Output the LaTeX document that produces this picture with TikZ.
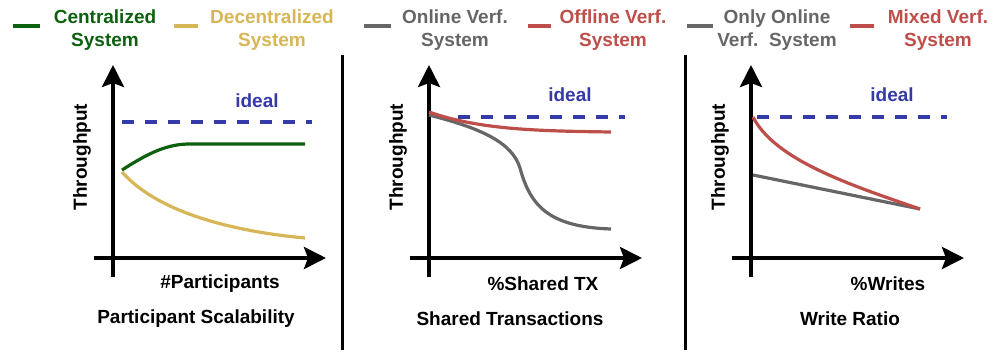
\documentclass[tikz,border=0pt]{standalone}
\usepackage{fontspec}
\setmainfont{Liberation Sans}
\usetikzlibrary{arrows.meta}

\definecolor{cgreen}{RGB}{12,96,14}
\definecolor{cyellow}{RGB}{214,182,86}
\definecolor{cgray}{RGB}{102,102,102}
\definecolor{cred}{RGB}{190,78,74}
\definecolor{cblue}{RGB}{52,58,168}

\tikzset{
  lbl/.style={font=\fontsize{19}{23}\selectfont\bfseries, inner sep=0pt, align=center},
  axis/.style={line width=4pt, -{Stealth[length=22pt,width=22pt,inset=4pt]}},
  curve/.style={line width=3.2pt},
  ideal/.style={cblue, line width=3.2pt, dash pattern=on 12pt off 11pt},
  swatch/.style={line width=3.5pt},
}

\begin{document}
\begin{tikzpicture}[x=1pt, y=-1pt]
        \useasboundingbox (0,0) rectangle (1002,352);
        % legend
        \draw[swatch, cgreen] (13,26) -- (40,26);
        \node[lbl, cgreen] (lgcen) at (105,30) {Centralized\\System};
        \draw[swatch, cyellow] (174,26) -- (198,26);
        \node[lbl, cyellow] (lgdec) at (272,30) {Decentralized\\System};
        \draw[swatch, cgray] (364,26) -- (391,26);
        \node[lbl, cgray] (lgonl) at (455,30) {Online Verf.\\System};
        \draw[swatch, cred] (528,26) -- (551,26);
        \node[lbl, cred] (lgoff) at (613,30) {Offline Verf.\\System};
        \draw[swatch, cgray] (687,26) -- (713,26);
        \node[lbl, cgray] (lgonly) at (777,30) {Only Online\\Verf.\ \ System};
        \draw[swatch, cred] (850,26) -- (874,26);
        \node[lbl, cred] (lgmix) at (938,30) {Mixed Verf.\\System};
        % separators
        \draw[line width=3pt] (342,55) -- (342,350);
        \draw[line width=3pt] (685,55) -- (685,350);
        % axes
        \foreach \ox/\xl/\xc/\tl/\tc in {113/{\#Participants}/220/{Participant Scalability}/196,
                                         429/{\%Shared TX}/543/{Shared Transactions}/510,
                                         751/{\%Writes}/888/{Write Ratio}/850} {
          \draw[axis] (\ox,277) -- (\ox,65);
          \draw[axis] (\ox-19,258) -- (\ox+213,258);
          \node[lbl, rotate=90] at (\ox-31,157) {Throughput};
          \node[lbl] at (\xc,284) {\xl};
          \node[lbl] at (\tc,319) {\tl};
        }
        % participant scalability
        \draw[ideal] (122,122) -- (312,122);
        \node[lbl, cblue] (id1) at (257,101) {ideal};
        \draw[curve, cyellow] (122,172) .. controls (160,215) and (240,232) .. (305,238);
        \draw[curve, cgreen] (122,170) .. controls (150,152) and (168,144) .. (190,144) -- (305,144);
        % shared transactions
        \draw[ideal] (458,117) -- (625,117);
        \node[lbl, cblue] (id2) at (570,95) {ideal};
        \draw[curve, cgray] (429,115) .. controls (480,128) and (512,142) .. (520,168)
          .. controls (530,205) and (548,227) .. (611,229);
        \draw[curve, cred] (429,112) .. controls (480,130) and (540,131) .. (611,132);
        % write ratio
        \draw[ideal] (757,117) -- (947,117);
        \node[lbl, cblue] (id3) at (892,95) {ideal};
        \draw[curve, cgray] (753,175) -- (920,209);
        \draw[curve, cred] (753,117) .. controls (775,160) and (850,185) .. (920,209);
      \end{tikzpicture}
\end{document}
